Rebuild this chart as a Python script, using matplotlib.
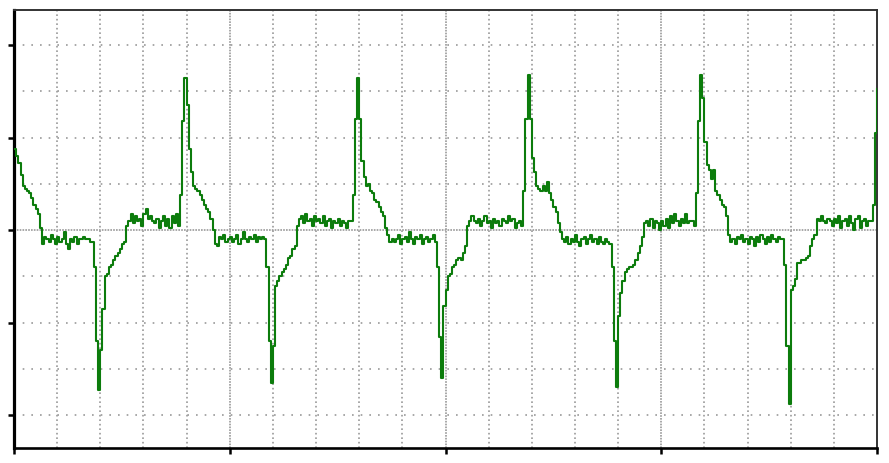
import numpy as np
import matplotlib
matplotlib.use('Agg')
import matplotlib.pyplot as plt

# sample step (one grid division = 1.0 on both axes)
dt = 0.05

# waveform in five pieces of 80 samples
seg_1 = [1.75, 1.6, 1.45, 1.2, 0.95, 0.9, 0.85, 0.8, 0.7, 0.55,
         0.45, 0.35, 0.05, -0.3, -0.15, -0.2, -0.25, -0.1, -0.2, -0.3,
         -0.15, -0.25, -0.2, -0.05, -0.3, -0.4, -0.2, -0.25, -0.15, -0.3,
         -0.2, -0.2, -0.15, -0.2, -0.2, -0.25, -0.25, -0.8, -2.4, -3.45,
         -2.6, -1.7, -1.0, -0.95, -0.8, -0.75, -0.65, -0.55, -0.5, -0.4,
         -0.3, -0.25, 0.1, 0.2, 0.35, 0.15, 0.3, 0.2, 0.25, 0.1,
         0.35, 0.45, 0.25, 0.3, 0.2, 0.15, 0.25, 0.05, 0.2, 0.3,
         0.1, 0.25, 0.05, 0.3, 0.15, 0.35, 0.1, 0.75, 2.35, 3.3]
seg_2 = [2.7, 1.75, 1.25, 0.95, 0.9, 0.85, 0.75, 0.65, 0.55, 0.45,
         0.4, 0.25, 0.0, -0.3, -0.35, -0.15, -0.2, -0.1, -0.25, -0.2,
         -0.15, -0.25, -0.2, -0.1, -0.3, -0.2, -0.05, -0.2, -0.25, -0.15,
         -0.2, -0.1, -0.25, -0.15, -0.2, -0.15, -0.2, -0.8, -2.4, -3.3,
         -2.5, -1.2, -1.1, -1.0, -0.9, -0.85, -0.75, -0.6, -0.55, -0.4,
         -0.35, 0.1, 0.25, 0.3, 0.15, 0.35, 0.2, 0.25, 0.1, 0.3,
         0.2, 0.25, 0.15, 0.3, 0.1, 0.2, 0.25, 0.05, 0.2, 0.15,
         0.25, 0.1, 0.2, 0.15, 0.05, 0.2, 0.2, 0.75, 2.4, 3.3]
seg_3 = [2.4, 1.5, 1.15, 0.95, 1.0, 0.85, 0.8, 0.65, 0.6, 0.5,
         0.4, 0.3, 0.05, -0.1, -0.25, -0.2, -0.25, -0.2, -0.1, -0.3,
         -0.2, -0.15, -0.25, -0.05, -0.2, -0.3, -0.15, -0.2, -0.1, -0.3,
         -0.2, -0.15, -0.25, -0.2, -0.1, -0.25, -0.8, -2.3, -3.2, -1.65,
         -1.3, -1.0, -0.95, -0.8, -0.75, -0.65, -0.6, -0.65, -0.5, -0.35,
         0.1, 0.2, 0.3, 0.2, 0.15, 0.25, 0.1, 0.2, 0.3, 0.15,
         0.2, 0.05, 0.25, 0.15, 0.2, 0.1, 0.25, 0.2, 0.15, 0.3,
         0.2, 0.25, 0.05, 0.15, 0.2, 0.1, 0.85, 2.4, 3.35, 2.4]
seg_4 = [1.55, 1.25, 0.95, 0.9, 0.85, 0.95, 0.85, 1.05, 0.8, 0.65,
         0.5, 0.4, 0.15, -0.05, -0.2, -0.25, -0.15, -0.3, -0.2, -0.25,
         -0.1, -0.25, -0.35, -0.2, -0.15, -0.3, -0.2, -0.1, -0.25, -0.2,
         -0.3, -0.15, -0.25, -0.3, -0.2, -0.25, -0.3, -0.8, -2.4, -3.4,
         -1.85, -1.35, -1.1, -0.9, -0.85, -0.8, -0.8, -0.75, -0.65, -0.5,
         -0.35, -0.15, 0.15, 0.2, 0.1, 0.25, 0.05, 0.2, 0.15, 0.0,
         0.2, 0.1, 0.25, 0.05, 0.3, 0.15, 0.35, 0.2, 0.1, 0.25,
         0.15, 0.35, 0.15, 0.2, 0.2, 0.1, 0.8, 2.35, 3.35, 2.85]
seg_5 = [1.9, 1.4, 1.3, 1.1, 1.3, 0.85, 0.75, 0.65, 0.55, 0.5,
         0.3, -0.1, -0.25, -0.2, -0.3, -0.15, -0.2, -0.1, -0.25, -0.2,
         -0.3, -0.15, -0.2, -0.35, -0.15, -0.25, -0.1, -0.2, -0.3, -0.15,
         -0.25, -0.1, -0.2, -0.25, -0.15, -0.2, -0.2, -0.75, -2.5, -3.75,
         -1.3, -1.2, -1.05, -0.7, -0.7, -0.65, -0.65, -0.6, -0.55, -0.35,
         -0.2, -0.1, 0.25, 0.2, 0.3, 0.2, 0.15, 0.25, 0.2, 0.1,
         0.25, 0.15, 0.3, 0.05, 0.2, 0.25, 0.1, 0.3, 0.15, 0.0,
         0.25, 0.3, 0.05, 0.2, 0.25, 0.1, 0.2, 0.2, 0.55, 2.1,
         3.05]

# grid divisions
x_grid = list(range(1, 20))
y_grid = list(range(-4, 5))
x_major = [5, 10, 15]
x_ticks = [0, 5, 10, 15, 20]
y_ticks = [-4, -2, 0, 2, 4]

v = np.array(seg_1 + seg_2 + seg_3 + seg_4 + seg_5)
t = np.arange(len(v)) * dt

fig = plt.figure(figsize=(8.89, 4.63), dpi=100)
ax = fig.add_axes([0.0158, 0.0324, 0.9707, 0.946])

grid_col = '#999999'
for gx in x_grid:
    if gx in x_major:
        ax.axvline(gx, color=grid_col, lw=1.2, ls=(0, (1, 0.7)), zorder=1)
    else:
        ax.axvline(gx, color=grid_col, lw=1.2, ls=(0, (1, 1.7)), zorder=1)
for gy in y_grid:
    if gy == 0:
        ax.axhline(gy, color=grid_col, lw=1.2, ls=(0, (1, 0.7)), zorder=1)
    else:
        ax.axhline(gy, color=grid_col, lw=1.2, ls=(0, (1, 4.2)), zorder=1)

ax.plot(t, v, drawstyle='steps-post', color='#0c7c0c', lw=1.5, zorder=3)

ax.set_xlim(0, 20)
ax.set_ylim(-4.71, 4.76)
ax.set_xticks(x_ticks)
ax.set_yticks(y_ticks)
ax.tick_params(labelbottom=False, labelleft=False, direction='out',
               length=4, width=1.8, color='black')

ax.spines['left'].set_linewidth(2.3)
ax.spines['bottom'].set_linewidth(1.9)
ax.spines['top'].set_linewidth(1.4)
ax.spines['right'].set_linewidth(1.4)
ax.spines['top'].set_color('#333333')
ax.spines['right'].set_color('#333333')

fig.savefig('out.png', dpi=100)
